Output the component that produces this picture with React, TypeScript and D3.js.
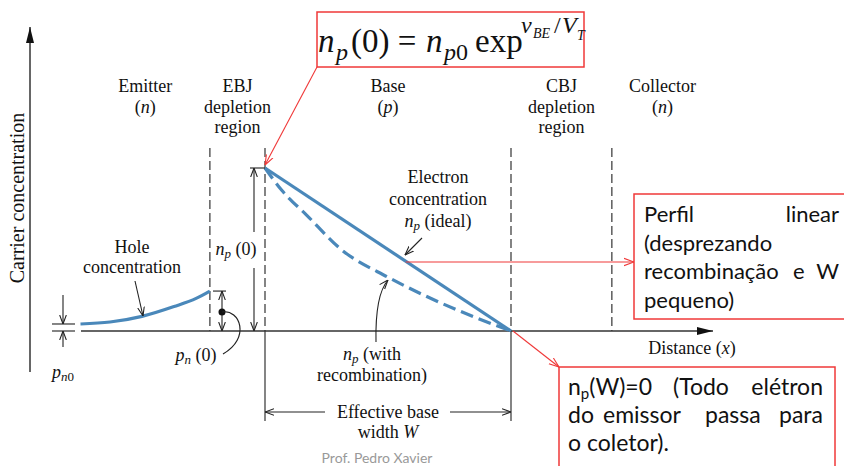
import React from "react";
import * as d3 from "d3";

// distance in units of the effective base width W (0 = EBJ edge, 1 = CBJ edge)
// concentration in units of np(0)
const holeX = [-0.75, -0.63, -0.5, -0.37, -0.28, -0.224];
const holeY = [0.043, 0.055, 0.09, 0.15, 0.2, 0.245];
const idealX = [0, 1];
const idealY = [1, 0];
const recombX = [0, 0.07, 0.17, 0.31, 0.5, 0.66, 0.85, 1];
const recombY = [1, 0.86, 0.71, 0.5, 0.33, 0.21, 0.086, 0];
const junctionX = [-0.224, 0, 1, 1.41];
const pn0 = 0.043;
const pnZero = 0.245;
const regionNames = [
  ["Emitter", "(n)"],
  ["EBJ", "depletion", "region"],
  ["Base", "(p)"],
  ["CBJ", "depletion", "region"],
  ["Collector", "(n)"],
];

const SERIF = "'Liberation Serif', 'Times New Roman', serif";
const SANS = "Lato, 'Open Sans', sans-serif";
const BLUE = "#4a88ba";
const RED = "#f03838";
const INK = "#222";

// renders "(n)" with an italic letter
const Label = ({ s }: { s: string }) => {
  const m = s.match(/^\((\w)\)$/);
  if (!m) return <>{s}</>;
  return (
    <>
      (<tspan fontStyle="italic">{m[1]}</tspan>)
    </>
  );
};

export default function App() {
  const x = d3.scaleLinear().domain([0, 1]).range([265, 511]);
  const y = d3.scaleLinear().domain([0, 1]).range([331, 168]);

  const line = d3
    .line<[number, number]>()
    .x((d) => x(d[0]))
    .y((d) => y(d[1]))
    .curve(d3.curveMonotoneX);

  const hole = holeX.map((v, i) => [v, holeY[i]] as [number, number]);
  const ideal = idealX.map((v, i) => [v, idealY[i]] as [number, number]);
  const recomb = recombX.map((v, i) => [v, recombY[i]] as [number, number]);

  const xEnd = 713;
  const y0 = y(0);
  const edges = [x(holeX[0]), ...junctionX.map(x), xEnd];
  const mids = regionNames.map((_, i) => (edges[i] + edges[i + 1]) / 2);

  const dashTop = 148;
  const x0 = x(0);
  const xW = x(1);

  return (
    <svg
      width={844}
      height={466}
      style={{ position: "absolute", left: 0, top: 0, background: "#fff" }}
      fontFamily={SERIF}
    >
      <defs>
        <marker id="ah" viewBox="0 0 10 10" refX="10" refY="5" markerWidth="9" markerHeight="9"
          markerUnits="userSpaceOnUse" orient="auto-start-reverse">
          <path d="M0,1.3 L10,5 L0,8.7" fill="none" stroke={INK} strokeWidth="1.2" />
        </marker>
        <marker id="ahr" viewBox="0 0 10 10" refX="10" refY="5" markerWidth="10" markerHeight="10"
          markerUnits="userSpaceOnUse" orient="auto-start-reverse">
          <path d="M0,1.3 L10,5 L0,8.7" fill="none" stroke={RED} strokeWidth="1.1" />
        </marker>
        <marker id="axis" viewBox="0 0 16 8" refX="16" refY="4" markerWidth="16" markerHeight="8"
          markerUnits="userSpaceOnUse" orient="auto">
          <path d="M0,0 L16,4 L0,8 z" fill="#111" />
        </marker>
      </defs>

      {/* axes */}
      <line x1={30} y1={372} x2={30} y2={27} stroke="#666" strokeWidth={2} markerEnd="url(#axis)" />
      <line x1={81} y1={y0} x2={xEnd} y2={y0} stroke="#333" strokeWidth={1.5} markerEnd="url(#axis)" />
      <text transform={`translate(24,198) rotate(-90)`} textAnchor="middle" fontSize={20} fill="#111">
        Carrier concentration
      </text>
      <text x={692} y={354} textAnchor="middle" fontSize={18} fill="#111">
        Distance (<tspan fontStyle="italic">x</tspan>)
      </text>

      {/* region labels */}
      {regionNames.map((lines, i) => (
        <text key={i} x={mids[i]} textAnchor="middle" fontSize={18} fill="#111">
          {lines.map((s, j) => (
            <tspan key={j} x={mids[i]} y={92 + j * 20.5}>
              <Label s={s} />
            </tspan>
          ))}
        </text>
      ))}

      {/* junction boundaries */}
      {junctionX.map((v, i) => (
        <line key={i} x1={x(v)} x2={x(v)} y1={dashTop} y2={y0} stroke="#333" strokeWidth={1.2}
          strokeDasharray="9 4" />
      ))}
      <line x1={x0} x2={x0} y1={y0} y2={421} stroke="#333" strokeWidth={1.2} />
      <line x1={xW} x2={xW} y1={y0} y2={421} stroke="#333" strokeWidth={1.2} />

      {/* concentration profiles */}
      <path d={line(hole) ?? ""} fill="none" stroke={BLUE} strokeWidth={3.2} />
      <path d={line(ideal) ?? ""} fill="none" stroke={BLUE} strokeWidth={3.2} />
      <path d={line(recomb) ?? ""} fill="none" stroke={BLUE} strokeWidth={3.2} strokeDasharray="13 6" />

      {/* pn0 marker */}
      <line x1={52} x2={75} y1={y(pn0)} y2={y(pn0)} stroke="#333" strokeWidth={1.2} />
      <line x1={52} x2={75} y1={y0} y2={y0} stroke="#333" strokeWidth={1.2} />
      <line x1={63} x2={63} y1={295} y2={y(pn0)} stroke={INK} strokeWidth={1.1} markerEnd="url(#ah)" />
      <line x1={63} x2={63} y1={347} y2={y0} stroke={INK} strokeWidth={1.1} markerEnd="url(#ah)" />
      <text x={63} y={378} textAnchor="middle" fontSize={18} fontStyle="italic" fill="#111">
        p<tspan fontSize={13} dy={3}>n</tspan><tspan fontSize={13} fontStyle="normal">0</tspan>
      </text>

      {/* pn(0) marker */}
      <line x1={213} x2={226} y1={y(pnZero)} y2={y(pnZero)} stroke="#333" strokeWidth={1.2} />
      <line x1={222} x2={222} y1={y(pnZero)} y2={y0} stroke={INK} strokeWidth={1.1}
        markerStart="url(#ah)" markerEnd="url(#ah)" />
      <circle cx={222} cy={312} r={3.5} fill="#111" />
      <path d="M222,312 C240,309 251,338 223,354" fill="none" stroke={INK} strokeWidth={1.2} />
      <text x={196} y={361} textAnchor="middle" fontSize={18} fill="#111">
        <tspan fontStyle="italic">p</tspan>
        <tspan fontSize={13} fontStyle="italic" dy={3}>n</tspan>
        <tspan dy={-3}> (0)</tspan>
      </text>

      {/* np(0) marker */}
      <line x1={250} x2={x0} y1={y(1)} y2={y(1)} stroke="#333" strokeWidth={1.2} />
      <line x1={254} x2={254} y1={232} y2={y(1)} stroke={INK} strokeWidth={1.1} markerEnd="url(#ah)" />
      <line x1={254} x2={254} y1={268} y2={y0} stroke={INK} strokeWidth={1.1} markerEnd="url(#ah)" />
      <text x={236} y={255} textAnchor="middle" fontSize={18} fill="#111">
        <tspan fontStyle="italic">n</tspan>
        <tspan fontSize={13} fontStyle="italic" dy={3}>p</tspan>
        <tspan dy={-3}> (0)</tspan>
      </text>

      {/* hole concentration label */}
      <text x={132} textAnchor="middle" fontSize={18} fill="#111">
        <tspan x={132} y={253}>Hole</tspan>
        <tspan x={132} y={273}>concentration</tspan>
      </text>
      <line x1={135} y1={281} x2={143} y2={316} stroke={INK} strokeWidth={1.1} markerEnd="url(#ah)" />

      {/* electron concentration label */}
      <text x={438} textAnchor="middle" fontSize={18} fill="#111">
        <tspan x={438} y={183}>Electron</tspan>
        <tspan x={438} y={205}>concentration</tspan>
        <tspan x={438} y={227}>
          <tspan fontStyle="italic">n</tspan>
          <tspan fontSize={13} fontStyle="italic" dy={3}>p</tspan>
          <tspan dy={-3}> (ideal)</tspan>
        </tspan>
      </text>
      <line x1={422} y1={238} x2={405} y2={255} stroke={INK} strokeWidth={1.1} markerEnd="url(#ah)" />

      {/* recombination label */}
      <text x={372} textAnchor="middle" fontSize={18} fill="#111">
        <tspan x={372} y={360}>
          <tspan fontStyle="italic">n</tspan>
          <tspan fontSize={13} fontStyle="italic" dy={3}>p</tspan>
          <tspan dy={-3}> (with</tspan>
        </tspan>
        <tspan x={372} y={381}>recombination)</tspan>
      </text>
      <path d="M376,342 Q375,295 388,280" fill="none" stroke={INK} strokeWidth={1.1} markerEnd="url(#ah)" />

      {/* effective base width */}
      <line x1={325} x2={x0} y1={412} y2={412} stroke={INK} strokeWidth={1.1} markerEnd="url(#ah)" />
      <line x1={450} x2={xW} y1={412} y2={412} stroke={INK} strokeWidth={1.1} markerEnd="url(#ah)" />
      <text x={388} textAnchor="middle" fontSize={18} fill="#111">
        <tspan x={388} y={418}>Effective base</tspan>
        <tspan x={388} y={438}>
          width <tspan fontStyle="italic">W</tspan>
        </tspan>
      </text>

      <text x={377} y={463} textAnchor="middle" fontSize={14} fontFamily={SANS} fill="#999">
        Prof. Pedro Xavier
      </text>

      {/* red annotations */}
      <rect x={317} y={12} width={267} height={55} fill="#fff" stroke={RED} strokeWidth={1.5} />
      <line x1={317} y1={67} x2={x0} y2={y(1) - 3} stroke={RED} strokeWidth={1.1} markerEnd="url(#ahr)" />
      <text fontSize={33} fill="#111">
        <tspan x={318} y={52} fontStyle="italic">n</tspan>
        <tspan x={336} y={60} fontSize={24} fontStyle="italic">p</tspan>
        <tspan x={351} y={52}>(0) =</tspan>
        <tspan x={426} y={52} fontStyle="italic">n</tspan>
        <tspan x={444} y={60} fontSize={24}>
          <tspan fontStyle="italic">p</tspan>0
        </tspan>
        <tspan x={475} y={52}>exp</tspan>
        <tspan x={521} y={33} fontSize={24} fontStyle="italic">v</tspan>
        <tspan x={533} y={38} fontSize={14} fontStyle="italic">BE</tspan>
        <tspan x={554} y={33} fontSize={24}>/</tspan>
        <tspan x={562} y={33} fontSize={24} fontStyle="italic">V</tspan>
        <tspan x={577} y={40} fontSize={14} fontStyle="italic">T</tspan>
      </text>

      <rect x={634} y={194} width={215} height={125} fill="#fff" stroke={RED} strokeWidth={1.5} />
      <line x1={x(0.572)} y1={262} x2={634} y2={262} stroke={RED} strokeWidth={1.1} markerEnd="url(#ahr)" />
      <g fontFamily={SANS} fontSize={22} fill="#111">
        <text x={644} y={222}>Perfil</text>
        <text x={839} y={222} textAnchor="end">linear</text>
        <text x={644} y={250.7}>(desprezando</text>
        <text x={644} y={279.4}>recombinação</text>
        <text x={793} y={279.4}>e</text>
        <text x={839} y={279.4} textAnchor="end">W</text>
        <text x={644} y={308}>pequeno)</text>
      </g>

      <rect x={559} y={367} width={276} height={110} fill="#fff" stroke={RED} strokeWidth={1.5} />
      <line x1={xW + 2} y1={y0} x2={559} y2={367} stroke={RED} strokeWidth={1.1} markerEnd="url(#ahr)" />
      <g fontFamily={SANS} fontSize={23} fill="#111">
        <text x={568} y={395}>
          n<tspan fontSize={15} dy={4}>p</tspan>
          <tspan dy={-4}>(W)=0</tspan>
        </text>
        <text x={673} y={395}>(Todo</text>
        <text x={823} y={395} textAnchor="end">elétron</text>
        <text x={568} y={423}>do</text>
        <text x={603} y={423}>emissor</text>
        <text x={705} y={423}>passa</text>
        <text x={823} y={423} textAnchor="end">para</text>
        <text x={568} y={451}>o coletor).</text>
      </g>
    </svg>
  );
}
